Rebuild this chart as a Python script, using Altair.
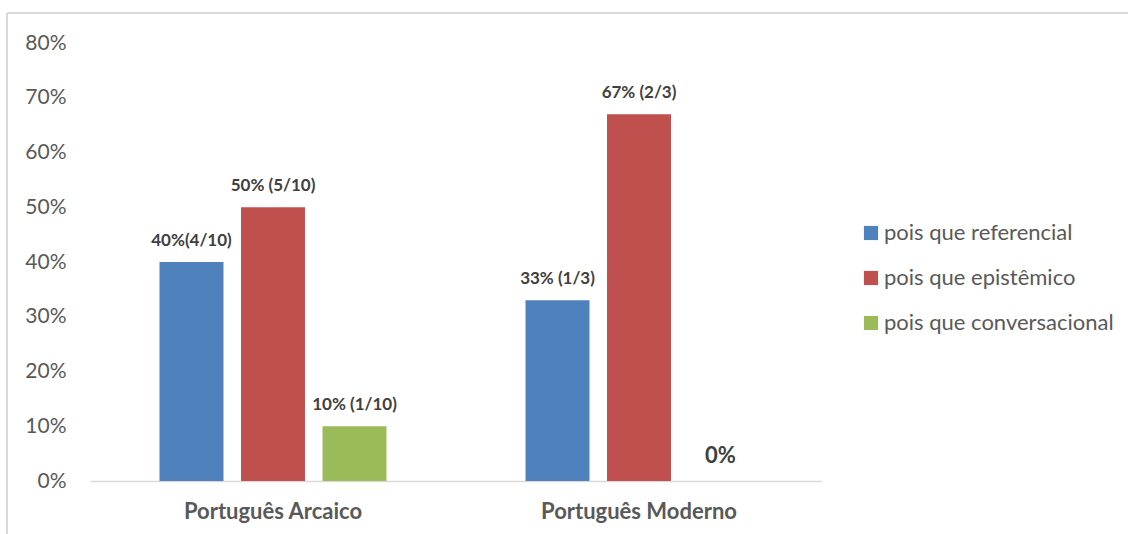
import altair as alt
import pandas as pd

categories = ["Português Arcaico", "Português Moderno"]
series = ["pois que referencial", "pois que epistêmico", "pois que conversacional"]
values_arcaico = [0.40, 0.50, 0.10]
values_moderno = [0.33, 0.67, 0.0]
labels_arcaico = ["40%(4/10)", "50% (5/10)", "10% (1/10)"]
labels_moderno = ["33% (1/3)", "67% (2/3)", "0%"]
colors = ["#4F81BD", "#C0504D", "#9BBB59"]
y_ticks = [0, 0.1, 0.2, 0.3, 0.4, 0.5, 0.6, 0.7, 0.8]

rows = []
for cat, vals, labs in [(categories[0], values_arcaico, labels_arcaico),
                        (categories[1], values_moderno, labels_moderno)]:
    for s, v, l in zip(series, vals, labs):
        rows.append({"cat": cat, "serie": s, "valor": v, "rotulo": l,
                     "zero": v == 0})
df = pd.DataFrame(rows)

FONT = "Lato"
W, H = 732, 438
LEFT, TOP = 90, 43

x = alt.X("cat:N", sort=categories,
          scale=alt.Scale(paddingInner=0, paddingOuter=0),
          axis=alt.Axis(title=None, labelAngle=0, labelFont=FONT, labelFontSize=22,
                        labelFontWeight="bold", labelColor="#595959", labelPadding=20,
                        labelLimit=400, ticks=False, domainColor="#D9D9D9",
                        domainWidth=1.5))
xo = alt.XOffset("serie:N", sort=series,
                 scale=alt.Scale(paddingInner=0.215, paddingOuter=0.853))
y = alt.Y("valor:Q", scale=alt.Scale(domain=[0, 0.8], nice=False),
          axis=alt.Axis(title=None, format=".0%", values=y_ticks, grid=False,
                        domain=False, ticks=False, labelFont=FONT, labelFontSize=21,
                        labelColor="#595959", labelPadding=24))
color = alt.Color("serie:N", sort=series,
                  scale=alt.Scale(domain=series, range=colors),
                  legend=alt.Legend(title=None, orient="none", legendX=770, legendY=179,
                                    symbolType="square", symbolSize=200,
                                    symbolStrokeWidth=0, labelFont=FONT,
                                    labelFontSize=22, labelColor="#595959",
                                    labelLimit=500, rowPadding=23, labelOffset=2))

bars = alt.Chart(df).mark_bar().encode(x=x, xOffset=xo, y=y, color=color)

text = alt.Chart(df).transform_filter("!datum.zero").mark_text(
    font=FONT, fontSize=17, fontWeight="bold", color="#404040", dy=-21,
    baseline="middle").encode(x=x, xOffset=xo, y=y, text="rotulo:N")

text0 = alt.Chart(df).transform_filter("datum.zero").mark_text(
    font=FONT, fontSize=22, fontWeight="bold", color="#404040", dy=-25,
    baseline="middle").encode(x=x, xOffset=xo, y=y, text="rotulo:N")

border_left = alt.Chart(df).mark_rule(color="#D9D9D9", strokeWidth=2).encode(
    x=alt.value(7 - LEFT), y=alt.value(13 - TOP), y2=alt.value(H + 80))
border_top = alt.Chart(df).mark_rule(color="#D9D9D9", strokeWidth=2).encode(
    x=alt.value(7 - LEFT), x2=alt.value(W + 400), y=alt.value(13 - TOP))

chart = alt.layer(bars, text, text0, border_left, border_top).properties(
    width=W, height=H,
    autosize=alt.AutoSizeParams(type="none"),
    padding={"left": LEFT, "top": TOP, "right": 1128 - LEFT - W, "bottom": 534 - TOP - H},
).configure(background="white").configure_view(stroke=None)

chart.save("out.html", embed_options={"renderer": "svg", "actions": False})
